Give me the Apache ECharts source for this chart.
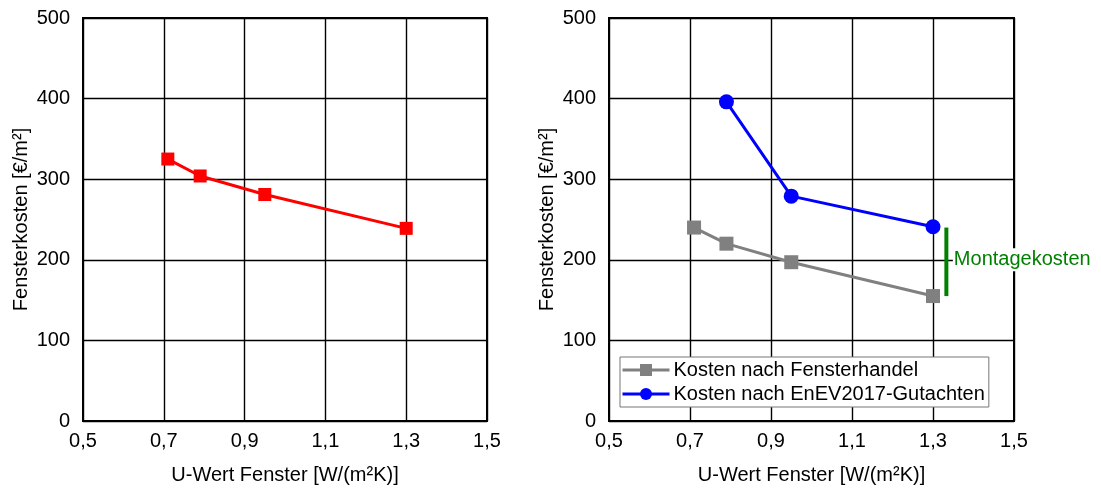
<!DOCTYPE html>
<html><head><meta charset="utf-8">
<script src="https://cdn.jsdelivr.net/npm/echarts@6/dist/echarts.min.js"></script>
<style>html,body{margin:0;padding:0;background:#fff}#c{width:1101px;height:490px}</style>
</head><body><div id="c"></div>
<script>
const xTicks = ['0,5','0,7','0,9','1,1','1,3','1,5'];
const yTicks = [0,100,200,300,400,500];
const leftUValues = [0.71, 0.79, 0.95, 1.30];
const leftCosts = [325, 304, 281, 239];
const handelU = [0.71, 0.79, 0.95, 1.30];
const handelCosts = [240, 220, 197, 155];
const gutachtenU = [0.79, 0.95, 1.30];
const gutachtenCosts = [396, 279, 241];
const montageU = [1.333, 1.333];
const montageRange = [155, 240];
const montageLabelPos = [1.333, 200];
const xTitle = 'U-Wert Fenster [W/(m²K)]';
const yTitle = 'Fensterkosten [€/m²]';
const seriesNames = ['Kosten nach Fensterhandel', 'Kosten nach EnEV2017-Gutachten'];
const montageLabel = 'Montagekosten';

const FONT = 'Liberation Sans, Arial, sans-serif';
const FS = 20;
const pairs = (xs, ys) => xs.map((x, i) => [x, ys[i]]);

function xAxis(gi) {
  return {
    type: 'value', gridIndex: gi, min: 0.5, max: 1.5, interval: 0.2,
    name: xTitle, nameLocation: 'middle', nameGap: 44,
    nameTextStyle: {fontFamily: FONT, fontSize: FS, color: '#000'},
    axisLine: {show: true, lineStyle: {color: '#000', width: 2}},
    axisTick: {show: false},
    axisLabel: {fontFamily: FONT, fontSize: FS, color: '#000', margin: 10,
      formatter: v => xTicks[Math.round((v - 0.5) / 0.2)]},
    splitLine: {show: true, lineStyle: {color: '#000', width: 1.4}}
  };
}
function yAxis(gi) {
  return {
    type: 'value', gridIndex: gi, min: 0, max: 500, interval: 100,
    name: yTitle, nameLocation: 'middle', nameGap: 52, nameRotate: 90,
    nameTextStyle: {fontFamily: FONT, fontSize: FS, color: '#000'},
    axisLine: {show: true, lineStyle: {color: '#000', width: 2}},
    axisTick: {show: false},
    axisLabel: {fontFamily: FONT, fontSize: FS, color: '#000', margin: 13,
      formatter: v => String(yTicks[Math.round(v / 100)])},
    splitLine: {show: true, lineStyle: {color: '#000', width: 1.4}}
  };
}

const chart = echarts.init(document.getElementById('c'), null, {renderer: 'canvas'});
chart.setOption({
  animation: false,
  backgroundColor: '#fff',
  textStyle: {fontFamily: FONT},
  grid: [
    {left: 83, right: 614, top: 18, bottom: 67, show: true, borderColor: '#000', borderWidth: 2, backgroundColor: '#fff'},
    {left: 609, right: 87, top: 18, bottom: 67, show: true, borderColor: '#000', borderWidth: 2, backgroundColor: '#fff'}
  ],
  xAxis: [xAxis(0), xAxis(1)],
  yAxis: [yAxis(0), yAxis(1)],
  legend: {
    data: seriesNames,
    orient: 'vertical', left: 620, top: 357,
    padding: [3, 4, 3, 1],
    itemGap: 4, itemWidth: 47, itemHeight: 15,
    lineStyle: {width: 3},
    backgroundColor: '#fff', borderColor: '#777', borderWidth: 1,
    textStyle: {fontFamily: FONT, fontSize: 20, color: '#000', padding: [0, 0, 0, -1]}
  },
  series: [
    {type: 'line', xAxisIndex: 0, yAxisIndex: 0, data: pairs(leftUValues, leftCosts),
      symbol: 'rect', symbolSize: 13, lineStyle: {color: '#ff0000', width: 3},
      itemStyle: {color: '#ff0000'}, z: 5},
    {name: seriesNames[0], type: 'line', xAxisIndex: 1, yAxisIndex: 1, data: pairs(handelU, handelCosts),
      symbol: 'rect', symbolSize: 14, lineStyle: {color: '#808080', width: 3},
      itemStyle: {color: '#808080'}, z: 5},
    {name: seriesNames[1], type: 'line', xAxisIndex: 1, yAxisIndex: 1, data: pairs(gutachtenU, gutachtenCosts),
      symbol: 'circle', symbolSize: 15, lineStyle: {color: '#0000ff', width: 3},
      itemStyle: {color: '#0000ff'}, z: 5},
    {type: 'line', xAxisIndex: 1, yAxisIndex: 1, data: pairs(montageU, montageRange),
      symbol: 'none', lineStyle: {color: '#008000', width: 4, cap: 'butt'}, z: 4},
    {type: 'scatter', xAxisIndex: 1, yAxisIndex: 1, data: [montageLabelPos],
      symbolSize: 1, silent: true, itemStyle: {opacity: 0},
      label: {show: true, position: 'right', distance: 6, formatter: montageLabel, opacity: 1,
        fontFamily: FONT, fontSize: FS, color: '#008000', backgroundColor: '#fff',
        padding: [2, 1, 1, 1]}, z: 6}
  ]
});
</script></body></html>
